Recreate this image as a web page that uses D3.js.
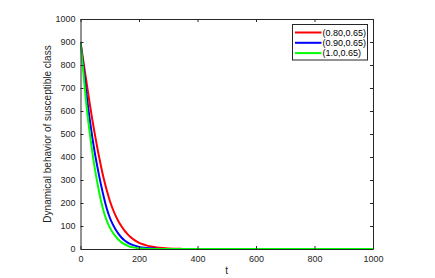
<!DOCTYPE html>
<html>
<head>
<meta charset="utf-8">
<script src="https://cdn.jsdelivr.net/npm/d3@7"></script>
<style>
  body { margin: 0; background: #fff; }
  svg { display: block; font-family: "Liberation Sans", Arial, sans-serif; }
</style>
</head>
<body>
<svg id="chart" width="435" height="278"></svg>
<script>
// Data
const tRed   = [0,10,20,30,40,50,60,70,80,90,100,110,120,130,140,150,160,170,180,190,200,220,240,260,280,300,350,400,500,600,700,800,900,1000];
const sRed   = [900,815,730,645,565,492,423,360,303,254,211,175,145,120,99,81,66,53,43,34,27,18,11,7,4,2,0.5,0,0,0,0,0,0,0];
const tBlue  = [0,10,20,30,40,50,60,70,80,90,100,110,120,130,140,150,160,170,180,200,220,240,260,300,400,500,600,700,800,900,1000];
const sBlue  = [900,790,678,578,488,410,342,280,224,175,137,108,85,66,50,38,29,22,17,9,5,3,1.5,0.5,0,0,0,0,0,0,0];
const tGreen = [0,10,20,30,40,50,60,70,80,90,100,110,120,130,140,150,160,170,180,200,220,250,300,400,500,600,700,800,900,1000];
const sGreen = [900,765,630,520,425,342,272,210,160,122,94,72,55,40,29,21,15,10,7,3,1.5,0.5,0,0,0,0,0,0,0,0];
const seriesNames = ["(0.80,0.65)", "(0.90,0.65)", "(1.0,0.65)"];
const seriesColors = ["#ff0000", "#0000ff", "#00ff00"];
const xTicks = [0,200,400,600,800,1000];
const yTicks = [0,100,200,300,400,500,600,700,800,900,1000];
const xLabel = "t";
const yLabel = "Dynamical behavior of susceptible class";

const series = [
  {name: seriesNames[0], color: seriesColors[0], t: tRed, s: sRed},
  {name: seriesNames[1], color: seriesColors[1], t: tBlue, s: sBlue},
  {name: seriesNames[2], color: seriesColors[2], t: tGreen, s: sGreen}
];

const svg = d3.select("#chart");
const L = 80.5, R = 373, T = 19, B = 249;
const x = d3.scaleLinear().domain([0,1000]).range([L,R]);
const y = d3.scaleLinear().domain([0,1000]).range([B,T]);
const axisColor = "#262626";

svg.append("rect").attr("x", L).attr("y", T).attr("width", R-L).attr("height", B-T).attr("fill", "#fff");

// Lines
const line = d3.line().x(d => x(d[0])).y(d => y(d[1])).curve(d3.curveMonotoneX);
svg.append("clipPath").attr("id","clip").append("rect")
  .attr("x", L).attr("y", T-2).attr("width", R-L).attr("height", B-T+2);
const g = svg.append("g").attr("clip-path", "url(#clip)");
series.forEach(sr => {
  g.append("path")
    .datum(sr.t.map((t,i) => [t, sr.s[i]]))
    .attr("fill", "none")
    .attr("stroke", sr.color)
    .attr("stroke-width", 2)
    .attr("d", line);
});

// Axes
function styleAxis(sel) {
  sel.selectAll("path").attr("stroke", axisColor);
  sel.selectAll("line").attr("stroke", axisColor);
  sel.selectAll("text").attr("fill", "#262626").style("font-size", "9px");
}
const xAxis = svg.append("g").attr("transform", `translate(0,${B})`)
  .call(d3.axisBottom(x).tickValues(xTicks).tickSize(-3).tickSizeOuter(0).tickPadding(7).tickFormat(d3.format("d")));
styleAxis(xAxis);
const yAxis = svg.append("g").attr("transform", `translate(${L},0)`)
  .call(d3.axisLeft(y).tickValues(yTicks).tickSize(-3).tickSizeOuter(0).tickPadding(5).tickFormat(d3.format("d")));
styleAxis(yAxis);
const xTop = svg.append("g").attr("transform", `translate(0,${T})`)
  .call(d3.axisTop(x).tickValues(xTicks).tickSize(-3).tickSizeOuter(0).tickFormat(""));
styleAxis(xTop);
const yRight = svg.append("g").attr("transform", `translate(${R},0)`)
  .call(d3.axisRight(y).tickValues(yTicks).tickSize(-3).tickSizeOuter(0).tickFormat(""));
styleAxis(yRight);

// Labels
svg.append("text").attr("x", (L+R)/2).attr("y", 274).attr("text-anchor", "middle")
  .style("font-size", "10px").attr("fill", "#262626").text(xLabel);
svg.append("text").attr("transform", `translate(51,${(T+B)/2}) rotate(-90)`)
  .attr("text-anchor", "middle").style("font-size", "10px").attr("fill", "#262626").text(yLabel);

// Legend
const lg = svg.append("g");
lg.append("rect").attr("x", 292.5).attr("y", 24.5).attr("width", 75).attr("height", 35.5)
  .attr("fill", "#fff").attr("stroke", axisColor).attr("stroke-width", 1);
series.forEach((sr, i) => {
  const yy = 32.5 + i*10.3;
  lg.append("line").attr("x1", 295).attr("x2", 321.5).attr("y1", yy).attr("y2", yy)
    .attr("stroke", sr.color).attr("stroke-width", 2);
  lg.append("text").attr("x", 322.5).attr("y", yy + 3.2).style("font-size", "9px")
    .attr("fill", "#000").text(sr.name);
});
</script>
</body>
</html>
